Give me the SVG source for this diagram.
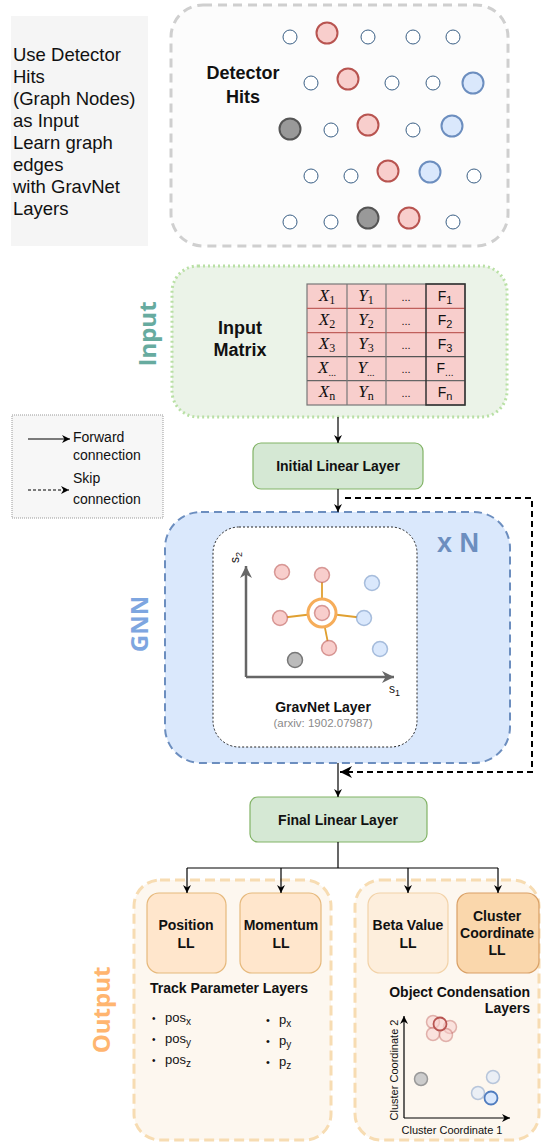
<svg xmlns="http://www.w3.org/2000/svg" width="541" height="1145" viewBox="0 0 541 1145">
<style>
text{font-family:"Liberation Sans",Arial,sans-serif;fill:#111}
.b{font-weight:bold}
.side{font-family:"Open Sans","Liberation Sans",sans-serif;font-weight:bold;font-size:24px}
.m{font-family:"Liberation Serif","Times New Roman",serif;font-style:italic;font-size:17px}
.sub{font-style:normal}
.sm{fill:#fff;stroke:#3a5f85;stroke-width:1}
.rd{fill:#f8cecc;stroke:#b85450;stroke-width:2}
.bl{fill:#dae8fc;stroke:#6c8ebf;stroke-width:2}
.gr{fill:#999;stroke:#555;stroke-width:2}
.rdl{fill:#f8cecc;stroke:#b85450;stroke-width:1.5;stroke-opacity:.55}
.bll{fill:#dae8fc;stroke:#6c8ebf;stroke-width:1.5;stroke-opacity:.55}
.grl{fill:#bbb;stroke:#777;stroke-width:1.5}
.ll{fill:#ffe6cc;stroke:#e6b97c;stroke-width:1.2}
.c{stroke:#000;stroke-width:1.2;fill:none}
</style>
<defs>
<marker id="arr" viewBox="0 0 10 10" refX="10" refY="5" markerWidth="8" markerHeight="8" markerUnits="userSpaceOnUse" orient="auto"><path d="M0,0 L10,5 L0,10 L3,5 z" fill="#000"/></marker>
<marker id="arrB" viewBox="0 0 10 10" refX="10" refY="5" markerWidth="12" markerHeight="12" markerUnits="userSpaceOnUse" orient="auto"><path d="M0,0 L10,5 L0,10 L3,5 z" fill="#000"/></marker>
<marker id="arrG" viewBox="0 0 10 10" refX="10" refY="5" markerWidth="12" markerHeight="12" markerUnits="userSpaceOnUse" orient="auto"><path d="M0,0 L10,5 L0,10 L3,5 z" fill="#666"/></marker>
</defs>
<rect width="541" height="1145" fill="#fff"/>

<g id="description">
<rect x="11" y="16" width="137" height="230" fill="#f5f5f5"/>
<g font-size="18.5" fill="#333">
<text x="13" y="61" fill="#333">Use Detector</text>
<text x="13" y="83" fill="#333">Hits</text>
<text x="13" y="105" fill="#333">(Graph Nodes)</text>
<text x="13" y="127" fill="#333">as Input</text>
<text x="13" y="149" fill="#333">Learn graph</text>
<text x="13" y="171" fill="#333">edges</text>
<text x="13" y="193" fill="#333">with GravNet</text>
<text x="13" y="215" fill="#333">Layers</text>
</g>
</g>

<g id="detector-hits">
<rect x="171" y="5" width="337" height="241" rx="32" fill="#fcfcfc" stroke="#cfcfcf" stroke-width="3" stroke-dasharray="9 6"/>
<text x="243" y="79" font-size="18" class="b" text-anchor="middle">Detector</text>
<text x="243" y="103" font-size="18" class="b" text-anchor="middle">Hits</text>
<circle class="sm" cx="290" cy="37" r="7"/><circle class="rd" cx="327" cy="33" r="10.5"/><circle class="sm" cx="368" cy="37" r="7"/><circle class="sm" cx="413" cy="37" r="7"/><circle class="sm" cx="453" cy="37" r="7"/>
<circle class="sm" cx="311" cy="83" r="7"/><circle class="rd" cx="348" cy="79" r="10.5"/><circle class="sm" cx="392" cy="83" r="7"/><circle class="sm" cx="433" cy="83" r="7"/><circle class="bl" cx="473" cy="83" r="10.5"/>
<circle class="gr" cx="290" cy="129" r="10.5"/><circle class="sm" cx="331" cy="130" r="7"/><circle class="rd" cx="368" cy="125" r="10.5"/><circle class="sm" cx="413" cy="130" r="7"/><circle class="bl" cx="452" cy="126" r="10.5"/>
<circle class="sm" cx="311" cy="176" r="7"/><circle class="sm" cx="351" cy="176" r="7"/><circle class="rd" cx="388" cy="171" r="10.5"/><circle class="bl" cx="430" cy="172" r="10.5"/><circle class="sm" cx="474" cy="176" r="7"/>
<circle class="sm" cx="290" cy="222" r="7"/><circle class="sm" cx="331" cy="222" r="7"/><circle class="gr" cx="368" cy="218" r="10.5"/><circle class="rd" cx="409" cy="218" r="10.5"/><circle class="sm" cx="453" cy="222" r="7"/>
</g>

<g id="input">
<rect x="172" y="266" width="335" height="151" rx="26" fill="#ebf3e8" stroke="#b9e0a5" stroke-width="3" stroke-dasharray="2 3"/>
<text class="side" transform="translate(156,334) rotate(-90)" text-anchor="middle" style="fill:#67AB9F">Input</text>
<text x="240" y="334" font-size="18" class="b" text-anchor="middle">Input</text>
<text x="240" y="356" font-size="18" class="b" text-anchor="middle">Matrix</text>
</g>

<g id="input-matrix">
<rect x="307" y="284" width="158" height="121" fill="#f8cecc" stroke="#777" stroke-width="1.2"/>
<line x1="307" y1="308.3" x2="465" y2="308.3" stroke="#c0605c" stroke-width="1.2"/>
<line x1="307" y1="332.7" x2="465" y2="332.7" stroke="#c0605c" stroke-width="1.2"/>
<line x1="307" y1="356.7" x2="465" y2="356.7" stroke="#555" stroke-width="1.2"/>
<line x1="307" y1="380.7" x2="465" y2="380.7" stroke="#666" stroke-width="1.2"/>
<line x1="347" y1="284" x2="347" y2="405" stroke="#777" stroke-width="1.2"/>
<line x1="386" y1="284" x2="386" y2="405" stroke="#777" stroke-width="1.2"/>
<rect x="426" y="284" width="39" height="121" fill="none" stroke="#333" stroke-width="1.5"/>
<g text-anchor="middle">
<text class="m" x="327" y="301">X<tspan class="sub" font-size="12" dy="3">1</tspan></text>
<text class="m" x="366" y="301">Y<tspan class="sub" font-size="12" dy="3">1</tspan></text>
<text x="406" y="301" font-size="11" fill="#555">...</text>
<text x="445" y="301" font-size="14">F<tspan font-size="11" dy="3">1</tspan></text>
<text class="m" x="327" y="325">X<tspan class="sub" font-size="12" dy="3">2</tspan></text>
<text class="m" x="366" y="325">Y<tspan class="sub" font-size="12" dy="3">2</tspan></text>
<text x="406" y="325" font-size="11" fill="#555">...</text>
<text x="445" y="325" font-size="14">F<tspan font-size="11" dy="3">2</tspan></text>
<text class="m" x="327" y="349">X<tspan class="sub" font-size="12" dy="3">3</tspan></text>
<text class="m" x="366" y="349">Y<tspan class="sub" font-size="12" dy="3">3</tspan></text>
<text x="406" y="349" font-size="11" fill="#555">...</text>
<text x="445" y="349" font-size="14">F<tspan font-size="11" dy="3">3</tspan></text>
<text class="m" x="327" y="373">X<tspan class="sub" font-size="10" dy="3">...</tspan></text>
<text class="m" x="366" y="373">Y<tspan class="sub" font-size="10" dy="3">...</tspan></text>
<text x="406" y="373" font-size="11" fill="#555">...</text>
<text x="445" y="373" font-size="14">F<tspan font-size="10" dy="3">...</tspan></text>
<text class="m" x="327" y="397">X<tspan class="sub" font-size="12" dy="3">n</tspan></text>
<text class="m" x="366" y="397">Y<tspan class="sub" font-size="12" dy="3">n</tspan></text>
<text x="406" y="397" font-size="11" fill="#555">...</text>
<text x="445" y="397" font-size="14">F<tspan font-size="11" dy="3">n</tspan></text>
</g>
</g>

<g id="legend">
<rect x="12" y="415" width="151" height="103" fill="#f7f7f7" stroke="#999" stroke-width="1" stroke-dasharray="1 1"/>
<line x1="28" y1="439" x2="70" y2="439" class="c" marker-end="url(#arr)"/>
<text x="73" y="442" font-size="14" fill="#222">Forward</text>
<text x="73" y="460" font-size="14" fill="#222">connection</text>
<line x1="28" y1="490" x2="69" y2="490" class="c" stroke-dasharray="3 2" marker-end="url(#arr)"/>
<text x="73" y="483" font-size="14" fill="#222">Skip</text>
<text x="73" y="504" font-size="14" fill="#222">connection</text>
</g>

<g id="initial-linear-layer">
<rect x="253" y="443" width="170" height="46" rx="8" fill="#d5e8d4" stroke="#82b366" stroke-width="1.2"/>
<text x="338" y="471" font-size="14" class="b" text-anchor="middle">Initial Linear Layer</text>
</g>

<g id="gnn">
<rect x="165" y="512" width="345" height="251" rx="36" fill="#dae8fc" stroke="#6c8ebf" stroke-width="2" stroke-dasharray="8 5"/>
<text class="side" transform="translate(148,624) rotate(-90)" text-anchor="middle" style="fill:#7EA6E0">GNN</text>
<text x="458" y="552" font-size="27" class="b" text-anchor="middle" style="fill:#6c8ebf">x N</text>
</g>

<g id="gravnet-layer">
<rect x="213" y="527" width="204" height="220" rx="26" fill="#fff" stroke="#222" stroke-width="1" stroke-dasharray="2 2"/>
<line x1="246" y1="677" x2="246" y2="566" stroke="#666" stroke-width="2.5" marker-end="url(#arrG)"/>
<line x1="246" y1="677" x2="394" y2="677" stroke="#666" stroke-width="2.5" marker-end="url(#arrG)"/>
<text font-size="12" transform="translate(239,563) rotate(-90)" fill="#333">s<tspan font-size="9" dy="3">2</tspan></text>
<text x="389" y="693" font-size="12" fill="#333">s<tspan font-size="9" dy="3">1</tspan></text>
<g stroke="#e0a030" stroke-width="1.8">
<line x1="322" y1="613" x2="322" y2="575"/>
<line x1="322" y1="613" x2="280" y2="618"/>
<line x1="322" y1="613" x2="364" y2="618"/>
<line x1="322" y1="613" x2="329" y2="648"/>
</g>
<circle class="rdl" cx="282" cy="572" r="7.5"/>
<circle class="rdl" cx="322" cy="575" r="7.5"/>
<circle class="rdl" cx="280" cy="618" r="7.5"/>
<circle class="rdl" cx="329" cy="648" r="7.5"/>
<circle class="bll" cx="372" cy="583" r="7.5"/>
<circle class="bll" cx="364" cy="618" r="7.5"/>
<circle class="bll" cx="380" cy="649" r="7.5"/>
<circle class="grl" cx="295" cy="660" r="7.5"/>
<circle cx="322" cy="613" r="14" fill="#fff" stroke="#f6ad5a" stroke-width="3"/>
<circle class="rdl" cx="322" cy="613" r="7.5"/>
<text x="323" y="712" font-size="14" class="b" text-anchor="middle">GravNet Layer</text>
<text x="323" y="727" font-size="11.5" text-anchor="middle" style="fill:#8a8a8a">(arxiv: 1902.07987)</text>
</g>

<g id="final-linear-layer">
<rect x="250" y="797" width="177" height="45" rx="8" fill="#d5e8d4" stroke="#82b366" stroke-width="1.2"/>
<text x="338" y="825" font-size="14" class="b" text-anchor="middle">Final Linear Layer</text>
</g>

<g id="track-parameter-layers">
<rect x="134" y="880" width="197" height="260" rx="26" fill="#fdf7ef" stroke="#f7dcb2" stroke-width="3" stroke-dasharray="10 5"/>
<text class="side" transform="translate(110,1010) rotate(-90)" text-anchor="middle" style="fill:#FFB570">Output</text>
<text x="150" y="993" font-size="14" class="b">Track Parameter Layers</text>
<g font-size="13" fill="#222">
<text x="152" y="1022" font-size="10">•</text><text x="165" y="1022">pos<tspan font-size="10" dy="3">x</tspan></text>
<text x="152" y="1043" font-size="10">•</text><text x="165" y="1043">pos<tspan font-size="10" dy="3">y</tspan></text>
<text x="152" y="1064" font-size="10">•</text><text x="165" y="1064">pos<tspan font-size="10" dy="3">z</tspan></text>
<text x="266" y="1024" font-size="11">•</text><text x="279" y="1024">p<tspan font-size="10" dy="3">x</tspan></text>
<text x="266" y="1045" font-size="11">•</text><text x="279" y="1045">p<tspan font-size="10" dy="3">y</tspan></text>
<text x="266" y="1066" font-size="11">•</text><text x="279" y="1066">p<tspan font-size="10" dy="3">z</tspan></text>
</g>
</g>

<g id="position-ll">
<rect class="ll" x="147" y="893" width="79" height="80" rx="12"/>
<text x="186" y="930" font-size="14" class="b" text-anchor="middle">Position</text>
<text x="186" y="948" font-size="14" class="b" text-anchor="middle">LL</text>
</g>

<g id="momentum-ll">
<rect class="ll" x="240" y="893" width="81" height="80" rx="12"/>
<text x="281" y="930" font-size="14" class="b" text-anchor="middle">Momentum</text>
<text x="281" y="948" font-size="14" class="b" text-anchor="middle">LL</text>
</g>

<g id="object-condensation-layers">
<rect x="355" y="880" width="184" height="260" rx="26" fill="#fdf7ef" stroke="#f7dcb2" stroke-width="3" stroke-dasharray="10 5"/>
<text x="530" y="997" font-size="14" class="b" text-anchor="end">Object Condensation</text>
<text x="530" y="1013" font-size="14" class="b" text-anchor="end">Layers</text>
<line x1="404" y1="1118" x2="404" y2="1016" class="c" marker-end="url(#arr)"/>
<line x1="404" y1="1118" x2="510" y2="1118" class="c" marker-end="url(#arr)"/>
<text font-size="11" fill="#333" transform="translate(398,1070) rotate(-90)" text-anchor="middle">Cluster Coordinate 2</text>
<text x="452" y="1134" font-size="11" fill="#333" text-anchor="middle">Cluster Coordinate 1</text>
<g fill="#f8cecc" fill-opacity=".5" stroke="#b85450" stroke-opacity=".4" stroke-width="1.5">
<circle cx="433" cy="1022" r="6.5"/>
<circle cx="450" cy="1027" r="6.5"/>
<circle cx="433" cy="1034" r="6.5"/>
<circle cx="446" cy="1035" r="6.5"/>
</g>
<circle cx="440" cy="1024" r="6.5" fill="#f8cecc" fill-opacity=".6" stroke="#b85450" stroke-width="1.8"/>
<circle cx="421" cy="1079" r="6.5" fill="#ccc" stroke="#999" stroke-width="1.5"/>
<g fill="#dae8fc" fill-opacity=".5" stroke="#6c8ebf" stroke-opacity=".45" stroke-width="1.5">
<circle cx="493" cy="1077" r="6.5"/>
<circle cx="478" cy="1093" r="6.5"/>
</g>
<circle cx="491" cy="1098" r="6.5" fill="#dae8fc" stroke="#4f7cbf" stroke-width="1.8"/>
</g>

<g id="beta-value-ll">
<rect x="368" y="893" width="80" height="80" rx="12" fill="#fdeedc" stroke="#f2d2a8" stroke-width="1.2"/>
<text x="408" y="930" font-size="14" class="b" text-anchor="middle">Beta Value</text>
<text x="408" y="948" font-size="14" class="b" text-anchor="middle">LL</text>
</g>

<g id="cluster-coordinate-ll">
<rect x="457" y="893" width="82" height="80" rx="12" fill="#fad7ac" stroke="#d9a066" stroke-width="1.2"/>
<text x="497" y="921" font-size="14" class="b" text-anchor="middle">Cluster</text>
<text x="497" y="938" font-size="14" class="b" text-anchor="middle">Coordinate</text>
<text x="497" y="955" font-size="14" class="b" text-anchor="middle">LL</text>
</g>

<g id="connectors">
<line x1="338" y1="417" x2="338" y2="443" class="c" marker-end="url(#arr)"/>
<line x1="338" y1="489" x2="338" y2="512" class="c" marker-end="url(#arr)"/>
<polyline points="345,498 532,498 532,772 340,772" fill="none" stroke="#000" stroke-width="2" stroke-dasharray="6 4" marker-end="url(#arrB)"/>
<line x1="338" y1="763" x2="338" y2="797" class="c" marker-end="url(#arr)"/>
<line x1="338" y1="842" x2="338" y2="868" class="c"/>
<line x1="187" y1="868" x2="498" y2="868" class="c"/>
<line x1="187" y1="868" x2="187" y2="893" class="c" marker-end="url(#arr)"/>
<line x1="281" y1="868" x2="281" y2="893" class="c" marker-end="url(#arr)"/>
<line x1="408" y1="868" x2="408" y2="893" class="c" marker-end="url(#arr)"/>
<line x1="498" y1="868" x2="498" y2="893" class="c" marker-end="url(#arr)"/>
</g>
</svg>
